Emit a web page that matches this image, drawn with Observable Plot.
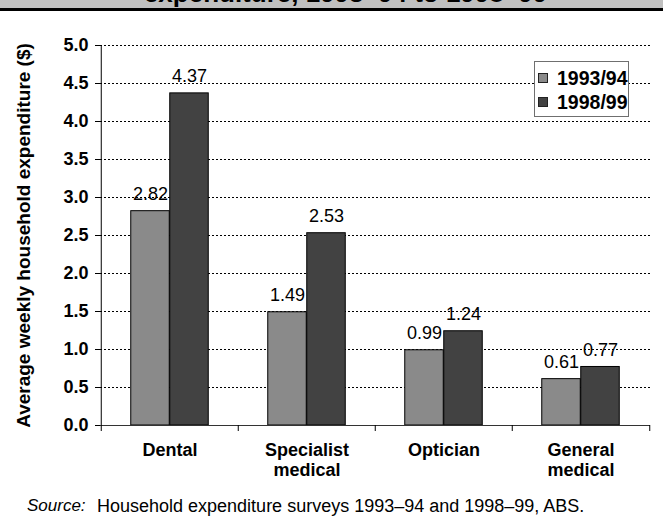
<!DOCTYPE html>
<html><head><meta charset="utf-8">
<script src="https://cdn.jsdelivr.net/npm/d3@7"></script>
<script src="https://cdn.jsdelivr.net/npm/@observablehq/plot@0.6"></script>
<style>
body{margin:0;background:#fff;}
#wrap{position:relative;width:663px;height:524px;overflow:hidden;font-family:"Liberation Sans",Arial,sans-serif;color:#000;}
#band{position:absolute;left:0;top:0;width:663px;height:8px;background:#c0c0c0;overflow:hidden;}
#title{position:absolute;left:14px;width:663px;top:-20px;text-align:center;font-weight:bold;font-size:26px;line-height:26px;white-space:nowrap;}
#rule{position:absolute;left:0;top:8px;width:663px;height:3px;background:#000;}
#chart{position:absolute;left:0;top:11px;}
#legend{position:absolute;left:534px;top:61px;width:95px;height:56px;border:1px solid #6f6f6f;background:#fff;box-sizing:border-box;}
.item{position:absolute;left:3px;height:20px;}
.sw{position:absolute;left:0;top:5px;width:10px;height:10px;border:1px solid #222;box-sizing:border-box;}
.lab{position:absolute;left:19px;top:0;font-weight:bold;font-size:19.5px;line-height:20px;white-space:nowrap;}
#source{position:absolute;top:496px;left:0;width:663px;font-size:18px;line-height:20px;white-space:nowrap;}
#source .s{position:absolute;left:27px;font-style:italic;font-size:17px;}
#source .t{position:absolute;left:97px;}
</style>
</head><body>
<div id="wrap">
  <div id="band"><div id="title">expenditure, 1993–94 to 1998–99</div></div>
  <div id="rule"></div>
  <div id="chart"></div>
  <div id="legend"></div>
  <div id="source"><span class="s">Source:</span><span class="t">Household expenditure surveys 1993–94 and 1998–99, ABS.</span></div>
</div>
<script>
const categories = ["Dental", "Specialist\nmedical", "Optician", "General\nmedical"];
const series = ["1993/94", "1998/99"];
const values1993 = [2.82, 1.49, 0.99, 0.61];
const values1998 = [4.37, 2.53, 1.24, 0.77];
const yTicks = [0, 0.5, 1, 1.5, 2, 2.5, 3, 3.5, 4, 4.5, 5];
const colors = ["#8a8a8a", "#424242"];
const yLabel = "Average weekly household expenditure ($)";

const data1993 = categories.map((c, i) => ({category: c, series: series[0], value: values1993[i]}));
const data1998 = categories.map((c, i) => ({category: c, series: series[1], value: values1998[i]}));

const W = 663, mL = 100, mR = 13;
const step = (W - mL - mR) / categories.length;
const half = step / 2;
const barW = 39;

const chart = Plot.plot({
  width: W,
  height: 480,
  marginLeft: mL,
  marginRight: mR,
  marginTop: 34,
  marginBottom: 66,
  style: {fontFamily: '"Liberation Sans", Arial, sans-serif', background: "transparent", overflow: "visible", color: "#000"},
  x: {domain: categories, padding: 0, label: null},
  y: {domain: [0, 5], label: null},
  marks: [
    Plot.gridY(yTicks.filter(d => d > 0), {stroke: "#000", strokeOpacity: 1, strokeDasharray: "2,2"}),
    Plot.barY(data1993, {x: "category", y: "value", fill: colors[0], stroke: "#000", strokeWidth: 1,
      insetLeft: half - barW, insetRight: half}),
    Plot.barY(data1998, {x: "category", y: "value", fill: colors[1], stroke: "#000", strokeWidth: 1,
      insetLeft: half, insetRight: half - barW}),
    Plot.text(data1993, {x: "category", y: "value", text: d => d.value.toFixed(2), dx: -barW / 2, dy: -11, lineAnchor: "bottom", fontSize: 18}),
    Plot.text(data1998, {x: "category", y: "value", text: d => d.value.toFixed(2), dx: barW / 2, dy: -11, lineAnchor: "bottom", fontSize: 18}),
    Plot.ruleY([0], {stroke: "#333"}),
    Plot.ruleX([categories[0]], {dx: -half, y1: 0, y2: 5, stroke: "#000"}),
    Plot.ruleX(categories, {dx: -half, y1: 0, y2: 0, insetBottom: -6, stroke: "#000"}),
    Plot.ruleX([categories[categories.length - 1]], {dx: half, y1: 0, y2: 0, insetBottom: -6, stroke: "#000"}),
    Plot.axisY(yTicks, {tickFormat: d => d.toFixed(1), tickSize: 5, tickPadding: 7, fontSize: 18, fontWeight: "bold", stroke: "#000", label: null}),
    Plot.axisX({tickSize: 0, tickPadding: 16, fontSize: 18, fontWeight: "bold", lineHeight: 1.12, label: null}),
    Plot.text([yLabel], {text: d => d, frameAnchor: "left", rotate: -90, dx: -77, textAnchor: "middle", fontSize: 19, fontWeight: "bold"})
  ]
});
document.getElementById("chart").appendChild(chart);

const legend = document.getElementById("legend");
series.forEach((s, i) => {
  const item = document.createElement("div");
  item.className = "item";
  item.style.top = (6 + i * 24) + "px";
  const sw = document.createElement("div");
  sw.className = "sw";
  sw.style.background = colors[i];
  const lab = document.createElement("div");
  lab.className = "lab";
  lab.textContent = s;
  item.appendChild(sw);
  item.appendChild(lab);
  legend.appendChild(item);
});
</script>
</body></html>
